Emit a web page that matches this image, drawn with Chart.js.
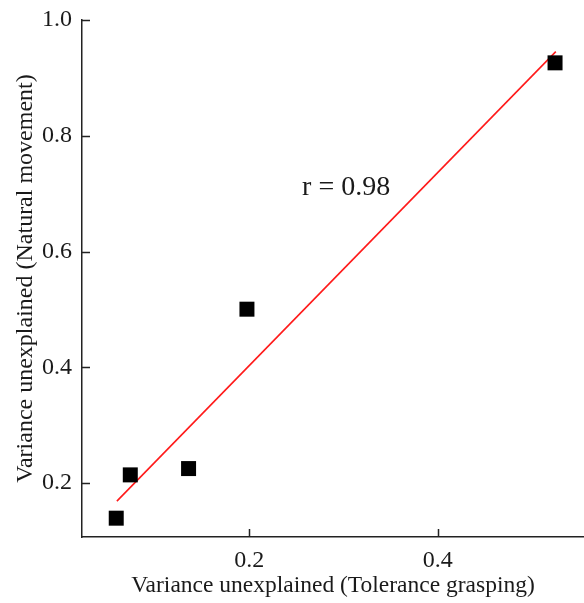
<!DOCTYPE html>
<html>
<head>
<meta charset="utf-8">
<script src="https://cdn.jsdelivr.net/npm/chart.js@4/dist/chart.umd.min.js"></script>
<style>
  html, body { margin: 0; padding: 0; background: #fff; }
  #wrap { width: 584px; height: 603px; }
  canvas { display: block; }
</style>
</head>
<body>
<div id="wrap"><canvas id="c" width="584" height="603"></canvas></div>
<script>
const pointX = [0.059, 0.0739, 0.1357, 0.1976, 0.5243];
const pointY = [0.1395, 0.2143, 0.2252, 0.5005, 0.926];
const fitX = [0.0597, 0.5251];
const fitY = [0.1689, 0.9453];
const xTicks = [0.2, 0.4];
const yTicks = [0.2, 0.4, 0.6, 0.8, 1.0];
const xRange = [0.0227, 0.555];
const yRange = [0.107, 1.0];
const xTitle = 'Variance unexplained (Tolerance grasping)';
const yTitle = 'Variance unexplained (Natural movement)';
const annotText = 'r = 0.98';
const annotPos = [0.3028, 0.7098];

const FONT = '"Liberation Serif", "Times New Roman", serif';
const AXIS_COLOR = '#222';
const TEXT_COLOR = '#1a1a1a';

const innerTicks = {
  id: 'innerTicks',
  afterDraw(chart) {
    const ctx = chart.ctx;
    const xs = chart.scales.x, ys = chart.scales.y;
    const area = chart.chartArea;
    ctx.save();
    ctx.strokeStyle = AXIS_COLOR;
    ctx.lineWidth = 1.5;
    ctx.beginPath();
    xs.ticks.forEach(t => {
      const px = Math.round(xs.getPixelForValue(t.value)) + 0.5;
      ctx.moveTo(px, area.bottom);
      ctx.lineTo(px, area.bottom - 8);
    });
    ys.ticks.forEach(t => {
      const py = Math.round(ys.getPixelForValue(t.value)) + 0.5;
      ctx.moveTo(area.left, py);
      ctx.lineTo(area.left + 8, py);
    });
    ctx.stroke();
    ctx.fillStyle = TEXT_COLOR;
    ctx.font = '28px ' + FONT;
    ctx.textAlign = 'center';
    ctx.textBaseline = 'middle';
    ctx.fillText(annotText, xs.getPixelForValue(annotPos[0]), ys.getPixelForValue(annotPos[1]));
    ctx.restore();
  }
};

function zeroPad(s) { s.paddingLeft = 0; s.paddingRight = 0; s.paddingTop = 0; s.paddingBottom = 0; }

new Chart(document.getElementById('c'), {
  data: {
    datasets: [
      {
        type: 'line',
        data: fitX.map((x, i) => ({ x, y: fitY[i] })),
        borderColor: '#ff1a1a',
        borderWidth: 1.6,
        pointRadius: 0,
        fill: false,
        order: 2
      },
      {
        type: 'scatter',
        data: pointX.map((x, i) => ({ x, y: pointY[i] })),
        pointStyle: 'rect',
        pointRadius: 10.6,
        backgroundColor: '#000',
        borderWidth: 0,
        order: 1
      }
    ]
  },
  options: {
    responsive: false,
    animation: false,
    devicePixelRatio: 1,
    layout: { autoPadding: false, padding: { left: 7, right: 0, top: 20, bottom: 2 } },
    plugins: { legend: { display: false }, tooltip: { enabled: false } },
    scales: {
      x: {
        type: 'linear',
        min: xRange[0], max: xRange[1],
        afterBuildTicks: s => { s.ticks = xTicks.map(v => ({ value: v })); },
        afterFit: s => { s.height = 64; zeroPad(s); },
        grid: { display: false },
        border: { display: true, color: AXIS_COLOR, width: 1.5 },
        ticks: { color: TEXT_COLOR, font: { family: FONT, size: 24 }, padding: 1, maxRotation: 0,
                 callback: v => v.toFixed(1) },
        title: { display: true, text: xTitle, color: TEXT_COLOR, font: { family: FONT, size: 23.5 }, padding: { top: 0, bottom: 1 } }
      },
      y: {
        type: 'linear',
        min: yRange[0], max: yRange[1],
        afterBuildTicks: s => { s.ticks = yTicks.map(v => ({ value: v })); },
        afterFit: s => { s.width = 75; zeroPad(s); },
        grid: { display: false },
        border: { display: true, color: AXIS_COLOR, width: 1.5 },
        ticks: { color: TEXT_COLOR, font: { family: FONT, size: 24 }, padding: 2,
                 callback: v => v.toFixed(1) },
        title: { display: true, text: yTitle, color: TEXT_COLOR, font: { family: FONT, size: 24 }, padding: { top: 4, bottom: 0 } }
      }
    }
  },
  plugins: [innerTicks]
});
</script>
</body>
</html>
